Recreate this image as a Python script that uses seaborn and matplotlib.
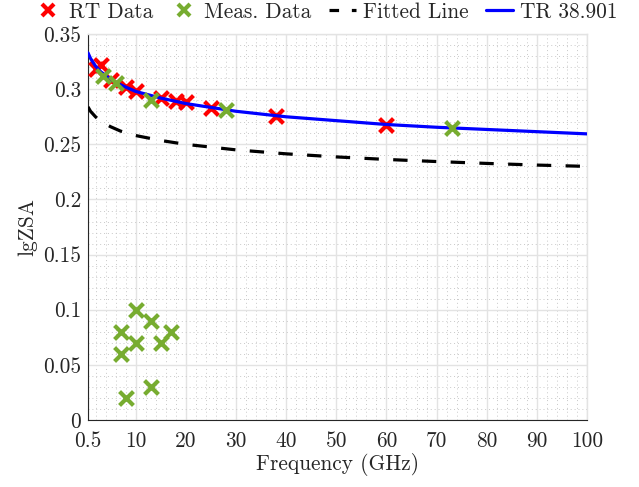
import numpy as np
import pandas as pd
import matplotlib
matplotlib.use('Agg')
import matplotlib.pyplot as plt
from matplotlib.ticker import MultipleLocator, FuncFormatter
from matplotlib.lines import Line2D
import seaborn as sns

# RT (ray tracing) data points
rt_freq = [2, 3, 5, 8, 10, 15, 18, 20, 25, 38, 60]
rt_lgzsa = [0.318, 0.322, 0.308, 0.302, 0.298, 0.292, 0.289, 0.288, 0.283, 0.276, 0.268]

# measured data points
meas_freq = [3.5, 6, 13, 28, 73, 10, 13, 7, 17, 10, 15, 7, 13, 8]
meas_lgzsa = [0.312, 0.306, 0.290, 0.281, 0.265, 0.10, 0.09, 0.08, 0.08, 0.07, 0.07, 0.06, 0.03, 0.02]

# curves
curve_freq = [0.5, 1, 2, 3, 5, 7, 10, 15, 20, 30, 40, 50, 60, 70, 80, 90, 100]
fitted_lgzsa = [0.284, 0.280, 0.275, 0.271, 0.266, 0.262, 0.258, 0.2535, 0.250, 0.245,
                0.2414, 0.2386, 0.2363, 0.2344, 0.2327, 0.2312, 0.230]
tr_lgzsa = [0.333, 0.328, 0.321, 0.316, 0.309, 0.304, 0.298, 0.292, 0.287, 0.280,
            0.275, 0.2715, 0.268, 0.2655, 0.2635, 0.2615, 0.2595]

x_ticks = [0.5, 10, 20, 30, 40, 50, 60, 70, 80, 90, 100]
y_ticks = [0, 0.05, 0.1, 0.15, 0.2, 0.25, 0.3, 0.35]

red = '#FF0000'
green = '#77AC30'
blue = '#0000FF'

sns.set_style('white')
plt.rcParams['font.family'] = ['cmr10']
plt.rcParams['mathtext.fontset'] = 'cm'
plt.rcParams['axes.formatter.use_mathtext'] = True
fs = 15.4

rt = pd.DataFrame({'f': rt_freq, 'v': rt_lgzsa})
meas = pd.DataFrame({'f': meas_freq, 'v': meas_lgzsa})
curves = pd.DataFrame({'f': curve_freq, 'fit': fitted_lgzsa, 'tr': tr_lgzsa})

fig = plt.figure(figsize=(6.39, 4.87), dpi=100)
ax = fig.add_axes([0.1377, 0.1376, 0.781, 0.7924])

sns.scatterplot(data=rt, x='f', y='v', marker='x', s=100, color=red, linewidth=3, ax=ax, zorder=3)
sns.lineplot(data=curves, x='f', y='fit', color='black', linewidth=2.3, ax=ax, zorder=4)
ax.lines[-1].set_linestyle((0, (4.5, 4.5)))
sns.lineplot(data=curves, x='f', y='tr', color=blue, linewidth=2.3, ax=ax, zorder=5)
sns.scatterplot(data=meas, x='f', y='v', marker='x', s=100, color=green, linewidth=3, ax=ax, zorder=6)

ax.set_xlim(0.5, 100)
ax.set_ylim(0, 0.35)
ax.set_xticks(x_ticks)
ax.set_yticks(y_ticks)
ax.xaxis.set_minor_locator(MultipleLocator(2))
ax.yaxis.set_minor_locator(MultipleLocator(0.01))
ax.xaxis.set_major_formatter(FuncFormatter(lambda v, p: f'{v:g}'))
ax.yaxis.set_major_formatter(FuncFormatter(lambda v, p: f'{v:g}'))
ax.tick_params(which='major', direction='in', length=4, width=0.8, colors='#262626', labelsize=fs)
ax.tick_params(axis='x', which='major', pad=8)
ax.tick_params(axis='y', which='major', pad=5)
ax.tick_params(which='minor', length=0)

ax.grid(which='major', color='#e3e3e3', linewidth=1.0, linestyle='-')
ax.grid(which='minor', color='#c8c8c8', linewidth=0.7, linestyle=(0, (1, 3)))
ax.set_axisbelow(True)

for s in ['left', 'bottom']:
    ax.spines[s].set_color('#262626')
    ax.spines[s].set_linewidth(0.8)
for s in ['top', 'right']:
    ax.spines[s].set_color('#e3e3e3')
    ax.spines[s].set_linewidth(1.0)

ax.set_xlabel('Frequency (GHz)', fontsize=fs, color='#262626', labelpad=2)
ax.set_ylabel('lgZSA', fontsize=fs, color='#262626')

handles = [
    Line2D([], [], marker='x', color=red, linestyle='', markersize=9, markeredgewidth=3),
    Line2D([], [], marker='x', color=green, linestyle='', markersize=9, markeredgewidth=3),
    Line2D([], [], color='black', linewidth=2.3, linestyle=(0, (3, 4))),
    Line2D([], [], color=blue, linewidth=2.3),
]
labels = ['RT Data', 'Meas. Data', 'Fitted Line', 'TR 38.901']
fig.legend(handles, labels, loc='upper center', bbox_to_anchor=(0.51, 1.035), ncol=4,
           frameon=False, fontsize=fs, handlelength=1.3, handletextpad=0.3, columnspacing=0.8)

fig.savefig('out.png', dpi=100)
